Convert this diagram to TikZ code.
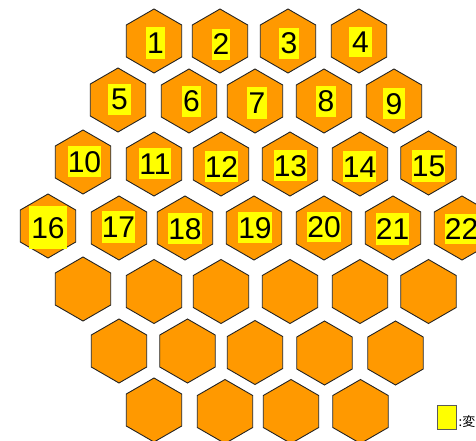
\documentclass[tikz,border=0pt]{standalone}
\usepackage{fontspec}
\setmainfont{Liberation Sans}
\newfontfamily\jpfont{Noto Sans CJK JP}
\usetikzlibrary{shapes.geometric, positioning}
\definecolor{hxorange}{RGB}{255,153,0}
\definecolor{hxyellow}{RGB}{255,255,0}
\definecolor{hxedge}{RGB}{35,35,35}
\definecolor{hxgray}{RGB}{90,90,90}

\begin{document}
\begin{tikzpicture}[
    x=1pt, y=-1pt,
    %% ── hexagon cells ────────────────────────────────────────────────────────
    cell/.style={
        regular polygon, regular polygon sides=6, shape border rotate=30,
        draw=hxedge, fill=hxorange, line width=0.9pt,
        minimum size=64pt, inner sep=0pt
    },
    %% ── yellow number tags ───────────────────────────────────────────────────
    tag/.style={
        fill=hxyellow, inner sep=0pt, text=black,
        font=\fontsize{30}{30}\selectfont,
        text height=21pt, text depth=0pt
    },
    %% ── legend ───────────────────────────────────────────────────────────────
    keybox/.style={
        draw=hxgray, fill=hxyellow, line width=0.9pt,
        minimum width=19pt, minimum height=24pt, inner sep=0pt
    },
]
\useasboundingbox (0,0) rectangle (476,441);

%% ── Row 1 ────────────────────────────────────────────────────────────────────
\node[cell] (h1) at (154,41) {};
\node[cell] (h2) at (220,41) {};
\node[cell] (h3) at (288,41) {};
\node[cell] (h4) at (359,41) {};

%% ── Row 2 ────────────────────────────────────────────────────────────────────
\node[cell] (h5) at (118,100) {};
\node[cell] (h6) at (189,101) {};
\node[cell] (h7) at (255,101) {};
\node[cell] (h8) at (324,101) {};
\node[cell] (h9) at (394,101) {};

%% ── Row 3 ────────────────────────────────────────────────────────────────────
\node[cell] (h10) at (83,162) {};
\node[cell] (h11) at (154,164) {};
\node[cell] (h12) at (221,164) {};
\node[cell] (h13) at (290,164) {};
\node[cell] (h14) at (360,164) {};
\node[cell] (h15) at (428.5,163) {};

%% ── Row 4 ────────────────────────────────────────────────────────────────────
\node[cell] (h16) at (48,226) {};
\node[cell] (h17) at (119,228) {};
\node[cell] (h18) at (185,228) {};
\node[cell] (h19) at (254,228) {};
\node[cell] (h20) at (324,228) {};
\node[cell] (h21) at (393,228) {};
\node[cell] (h22) at (462,228) {};

%% ── Row 5 (blank) ────────────────────────────────────────────────────────────
\node[cell] (e1) at (83,289) {};
\node[cell] (e2) at (154,291.5) {};
\node[cell] (e3) at (221,291.5) {};
\node[cell] (e4) at (290,291.5) {};
\node[cell] (e5) at (360,291.5) {};
\node[cell] (e6) at (428.5,291.5) {};

%% ── Row 6 (blank) ────────────────────────────────────────────────────────────
\node[cell] (e7) at (119,351) {};
\node[cell] (e8) at (187.5,351) {};
\node[cell] (e9) at (255,352.5) {};
\node[cell] (e10) at (324.5,353) {};
\node[cell] (e11) at (395.5,353) {};

%% ── Row 7 (blank) ────────────────────────────────────────────────────────────
\node[cell] (e12) at (154,410) {};
\node[cell] (e13) at (225,411.5) {};
\node[cell] (e14) at (291,411.5) {};
\node[cell] (e15) at (360.5,411.5) {};

%% ── Number tags ──────────────────────────────────────────────────────────────
\node[tag, minimum width=19pt, minimum height=32pt] (t1) at (155.5,43) {1};
\node[tag, minimum width=18pt, minimum height=31pt] (t2) at (221,44.5) {2};
\node[tag, minimum width=20pt, minimum height=31pt] (t3) at (289,43.5) {3};
\node[tag, minimum width=23pt, minimum height=30pt] (t4) at (360.5,42) {4};

\node[tag, minimum width=23pt, minimum height=31pt] (t5) at (119.5,99.5) {5};
\node[tag, minimum width=19pt, minimum height=31pt] (t6) at (191.5,101.5) {6};
\node[tag, minimum width=20pt, minimum height=32pt] (t7) at (257,103) {7};
\node[tag, minimum width=20pt, minimum height=31pt] (t8) at (326,101.5) {8};
\node[tag, minimum width=22pt, minimum height=31pt] (t9) at (394,103.5) {9};

\node[tag, minimum width=27pt, minimum height=31pt] (t10) at (84.5,161.5) {10};
\node[tag, minimum width=26pt, minimum height=31pt] (t11) at (155,163.5) {11};
\node[tag, minimum width=27pt, minimum height=31pt] (t12) at (221.5,166.5) {12};
\node[tag, minimum width=27pt, minimum height=31pt] (t13) at (290.5,165.5) {13};
\node[tag, minimum width=27pt, minimum height=31pt] (t14) at (359.5,166.5) {14};
\node[tag, minimum width=27pt, minimum height=32pt] (t15) at (428.5,166) {15};

\node[tag, minimum width=38pt, minimum height=43pt] (t16) at (48,227.5) {16};
\node[tag, minimum width=27pt, minimum height=32pt] (t17) at (118.5,227) {17};
\node[tag, minimum width=28pt, minimum height=31pt] (t18) at (185,228.5) {18};
\node[tag, minimum width=26pt, minimum height=31pt] (t19) at (255,227.5) {19};
\node[tag, minimum width=26pt, minimum height=30pt] (t20) at (324,227) {20};
\node[tag, minimum width=27pt, minimum height=32pt] (t21) at (392.5,229) {21};
\node[tag, minimum width=27pt, minimum height=30pt] (t22) at (461.5,229) {22};

%% ── Legend ───────────────────────────────────────────────────────────────────
\node[keybox] (key) at (446.5,417) {};
\node[anchor=base west, inner sep=0pt, font=\jpfont\fontsize{13}{13}\selectfont,
      right=2pt of key.south east, yshift=3pt, anchor=base west] (keytext) {:変更};

\end{tikzpicture}
\end{document}
